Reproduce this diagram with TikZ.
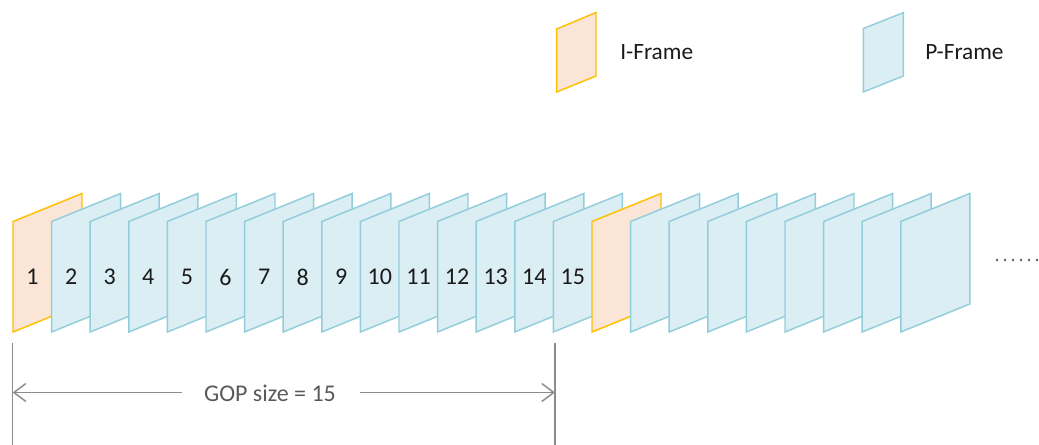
\documentclass[tikz,border=0pt]{standalone}
\usepackage{fontspec}
\setmainfont{Carlito}
\usetikzlibrary{arrows.meta}
\definecolor{ifill}{HTML}{FBE5D6}
\definecolor{idraw}{HTML}{FFC000}
\definecolor{pfill}{HTML}{DAEEF3}
\definecolor{pdraw}{HTML}{92CDDC}
\definecolor{gline}{HTML}{8C8C8C}
\definecolor{gtext}{HTML}{595959}
\definecolor{dtext}{HTML}{1A1A1A}
\begin{document}
\begin{tikzpicture}[x=0.75pt,y=-0.75pt,
  iframe/.style={fill=ifill,draw=idraw,line width=1.1pt},
  pframe/.style={fill=pfill,draw=pdraw,line width=1.1pt},
  num/.style={font=\fontsize{18}{20}\selectfont,text=dtext,inner sep=0pt},
  legtext/.style={font=\fontsize{17.5}{20}\selectfont,text=dtext,anchor=west,inner sep=0pt},
  goptext/.style={font=\fontsize{18}{20}\selectfont,text=gtext,inner sep=0pt},
  gop/.style={draw=gline,line width=1.1pt},
  goparrow/.style={gop,-{Straight Barb[length=9pt,width=13.5pt,line width=1.1pt]}}]
\useasboundingbox (0,0) rectangle (1039,445);
% frames
\foreach \i in {0,...,23} {
  \pgfmathsetmacro\xx{13+\i*38.6}
  \pgfmathtruncatemacro\n{\i+1}
  \ifnum\n=1 \def\fc{ifill}\def\dc{idraw}\else
    \ifnum\n=16 \def\fc{ifill}\def\dc{idraw}\else\def\fc{pfill}\def\dc{pdraw}\fi\fi
  \path[line width=1.1pt,fill=\fc,draw=\dc] (\xx,332) -- (\xx,221.5) -- (\xx+69,193.5) -- (\xx+69,304) -- cycle;
  \ifnum\n<16 \node[num] (n\n) at (\xx+19.5,277) {\n}; \fi
}
% legend
\path[iframe] (556.7,92) -- (556.7,29) -- (596,12.5) -- (596,76) -- cycle;
\node[legtext] (ilab) at (620,52) {I-Frame};
\path[pframe] (863.3,92) -- (863.3,28.5) -- (903.3,12.7) -- (903.3,76) -- cycle;
\node[legtext] (plab) at (925,52) {P-Frame};
% dots
\foreach \k in {0,...,5} \fill[gtext] (997+\k*8,260) circle (1pt);
% GOP
\coordinate (vl1) at (12.7,343); \coordinate (vl2) at (12.7,446);
\coordinate (vr1) at (555,343); \coordinate (vr2) at (555,446);
\draw[gop] (vl1) -- (vl2);
\draw[gop] (vr1) -- (vr2);
\node[goptext] (goplabel) at (270,393) {GOP size = 15};
\coordinate (gl) at (12.7,392.5);
\coordinate (gr) at (555,392.5);
\coordinate (gls) at (181.7,392.5);
\coordinate (grs) at (360,392.5);
\draw[goparrow] (gls) -- (gl);
\draw[goparrow] (grs) -- (gr);
\end{tikzpicture}
\end{document}
